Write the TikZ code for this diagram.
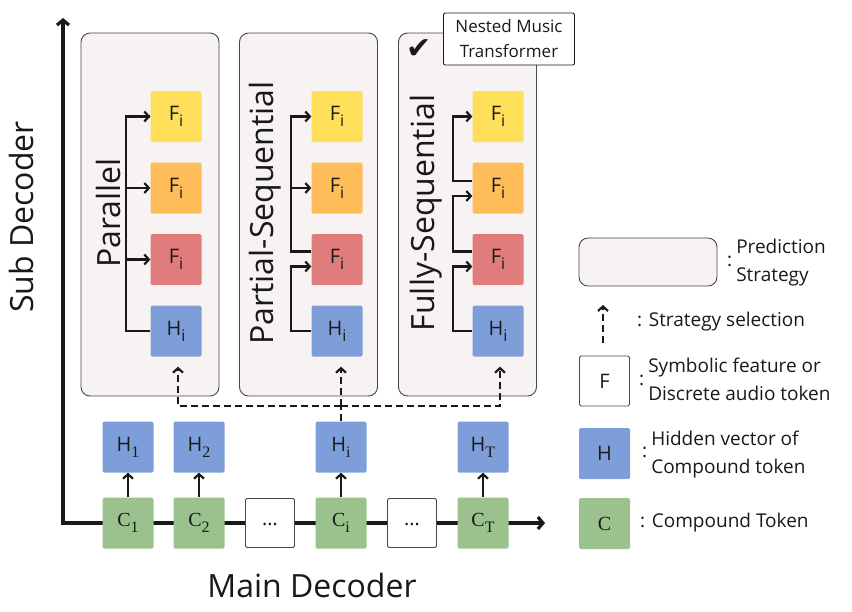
\documentclass[tikz,border=0pt]{standalone}
\usepackage{fontspec}
\setmainfont{Open Sans}
\newfontfamily\cfont{Liberation Serif}
\newfontfamily\symfont{DejaVu Sans}
\usepackage{tikz}
\usetikzlibrary{calc,arrows.meta}
\definecolor{fyellow}{RGB}{255,222,89}
\definecolor{forange}{RGB}{255,189,89}
\definecolor{fred}{RGB}{224,124,124}
\definecolor{hblue}{RGB}{126,158,217}
\definecolor{cgreen}{RGB}{155,194,140}
\definecolor{panelbg}{RGB}{247,243,242}
\definecolor{ink}{RGB}{25,25,25}
\newcommand{\boxsize}{51pt}
\newcommand{\lsub}[1]{\raisebox{-6pt}{\fontsize{16}{16}\selectfont #1}}
\tikzset{
  tok/.style={rounded corners=1.5pt, minimum size=\boxsize, inner sep=0pt,
    text=ink, font=\fontsize{20}{22}\selectfont},
  panel/.style={draw=ink!80, fill=panelbg, rounded corners=9pt, line width=0.9pt},
  conn/.style={ink, line width=2.2pt, -{Straight Barb[length=4.5pt,width=10pt]}},
  sel/.style={ink, line width=1.8pt, dash pattern=on 7pt off 4pt},
  axis/.style={ink, line width=3.2pt, {Straight Barb[length=5pt,width=12pt]}-{Straight Barb[length=5pt,width=12pt]}},
  biglabel/.style={text=ink, inner sep=0pt, font=\fontsize{32}{36}\selectfont},
  legtext/.style={text=ink, anchor=west, align=left, inner sep=0pt, font=\fontsize{19}{28}\selectfont},
}

\begin{document}
\begin{tikzpicture}[x=1pt, y=-1pt]
  \useasboundingbox (0,0) rectangle (852,611);
        %%  axes  %%
  \coordinate (ytop) at (63,18);
  \coordinate (org) at (63,523);
  \coordinate (xend) at (545,523);
  \draw[axis] (ytop) -- (org) -- (xend);
  \node (sub) at (21,217) [biglabel, rotate=90] {Sub Decoder};
  \node (main) at (312,585) [biglabel] {Main Decoder};

        %%  prediction strategy panels  %%
  \foreach \n/\x in {pa/150,ps/308.5,fs/467.5}
  { \node (\n) at (\x,214.5) [panel, minimum width=138pt, minimum height=363pt] {};}
  \node (pal) at (108,213) [biglabel, rotate=90] {Parallel};
  \node (psl) at (265,213) [biglabel, rotate=90] {Partial-Sequential};
  \node (fsl) at (426,213) [biglabel, rotate=90] {Fully-Sequential};

  \foreach \n/\x in {pa/176,ps/337,fs/498}
  { \node (\n0) at (\x,331) [tok, fill=hblue] {H\lsub{i}};
    \node (\n1) at (\x,259.5) [tok, fill=fred] {F\lsub{i}};
    \node (\n2) at (\x,188) [tok, fill=forange] {F\lsub{i}};
    \node (\n3) at (\x,116.5) [tok, fill=fyellow] {F\lsub{i}};}

  \draw[conn, -] (pa0.west) -- ++(-24,0) |- (pa3.west);
  \foreach \j in {1,2,3}
  { \draw[conn] ($(pa0.west)+(-24,0)$) |- (pa\j.west);}

  \draw[conn] (ps0.west) -- ++(-20,0) |- ($(ps1.west)+(0,7)$);
  \draw[conn] ($(ps1.west)+(0,-8)$) -- ++(-20,0) |- (ps3.west);
  \draw[conn] ($(ps1.west)+(-20,-8)$) |- (ps2.west);

  \draw[conn] (fs0.west) -- ++(-19,0) |- ($(fs1.west)+(0,7)$);
  \draw[conn] ($(fs1.west)+(0,-8)$) -- ++(-19,0) |- ($(fs2.west)+(0,8)$);
  \draw[conn] ($(fs2.west)+(0,-7)$) -- ++(-19,0) |- (fs3.west);

  \node (check) at (419,49) [text=ink, inner sep=0pt, font=\symfont\fontsize{30}{30}\selectfont] {✔};
  \node (nmt) at (509,39) [draw=ink, fill=white, rounded corners=2pt, line width=0.9pt,
    minimum width=131pt, minimum height=52pt, align=center, text=ink,
    font=\fontsize{17}{25}\selectfont] {Nested Music\\Transformer};

        %%  main decoder tokens  %%
  \foreach \j/\x/\s in {1/128/1,2/199/2,i/341/i,T/483/T}
  { \node (c\j) at (\x,523) [tok, fill=cgreen] {{\cfont C}\lsub{\cfont\s}};
    \node (h\j) at (\x,447) [tok, fill=hblue] {H\lsub{\cfont\s}};
    \draw[conn] (c\j) -- (h\j);}
  \foreach \j/\x in {a/270,b/412}
  { \node (dots\j) at (\x,523) [tok, draw=ink!80, line width=0.9pt, fill=white, minimum size=49pt] {\raisebox{-5pt}{\ldots}};}

        %%  strategy selection  %%
  \coordinate (sj) at ($(hi.north)+(0,-15)$);
  \draw[sel] (hi.north) -- (sj);
  \draw[sel, conn, dash pattern=on 7pt off 4pt] (sj) -| ($(pa0.south)+(2,10)$);
  \draw[sel, conn, dash pattern=on 7pt off 4pt] (sj) -| ($(fs0.south)+(2,10)$);
  \draw[sel, conn, dash pattern=on 7pt off 4pt] (sj) -- ($(sj |- ps0.south)+(0,10)$);

        %%  legend  %%
  \node (lpan) at (648,262) [panel, minimum width=138pt, minimum height=48pt] {};
  \node (lpant) at (727,262) [legtext] {:\hspace{4pt}\begin{tabular}[c]{@{}l@{}}Prediction\\Strategy\end{tabular}};
  \coordinate (lsa) at (603,343);
  \coordinate (lsb) at (603,305);
  \draw[sel, conn, dash pattern=on 7pt off 4pt] (lsa) -- (lsb);
  \node (lselt) at (637,322) [legtext] {: Strategy selection};
  \node (lf) at (604.5,381) [tok, draw=ink!80, line width=0.9pt, fill=white, minimum size=50pt] {F};
  \node (lft) at (639,381) [legtext] {:\hspace{4pt}\begin{tabular}[c]{@{}l@{}}Symbolic feature or\\Discrete audio token\end{tabular}};
  \node (lh) at (604.5,453.5) [tok, fill=hblue] {H};
  \node (lht) at (642,453.5) [legtext] {:\hspace{4pt}\begin{tabular}[c]{@{}l@{}}Hidden vector of\\Compound token\end{tabular}};
  \node (lc) at (604.5,523.5) [tok, fill=cgreen] {\cfont C};
  \node (lct) at (640,523) [legtext] {: Compound Token};
\end{tikzpicture}
\end{document}
